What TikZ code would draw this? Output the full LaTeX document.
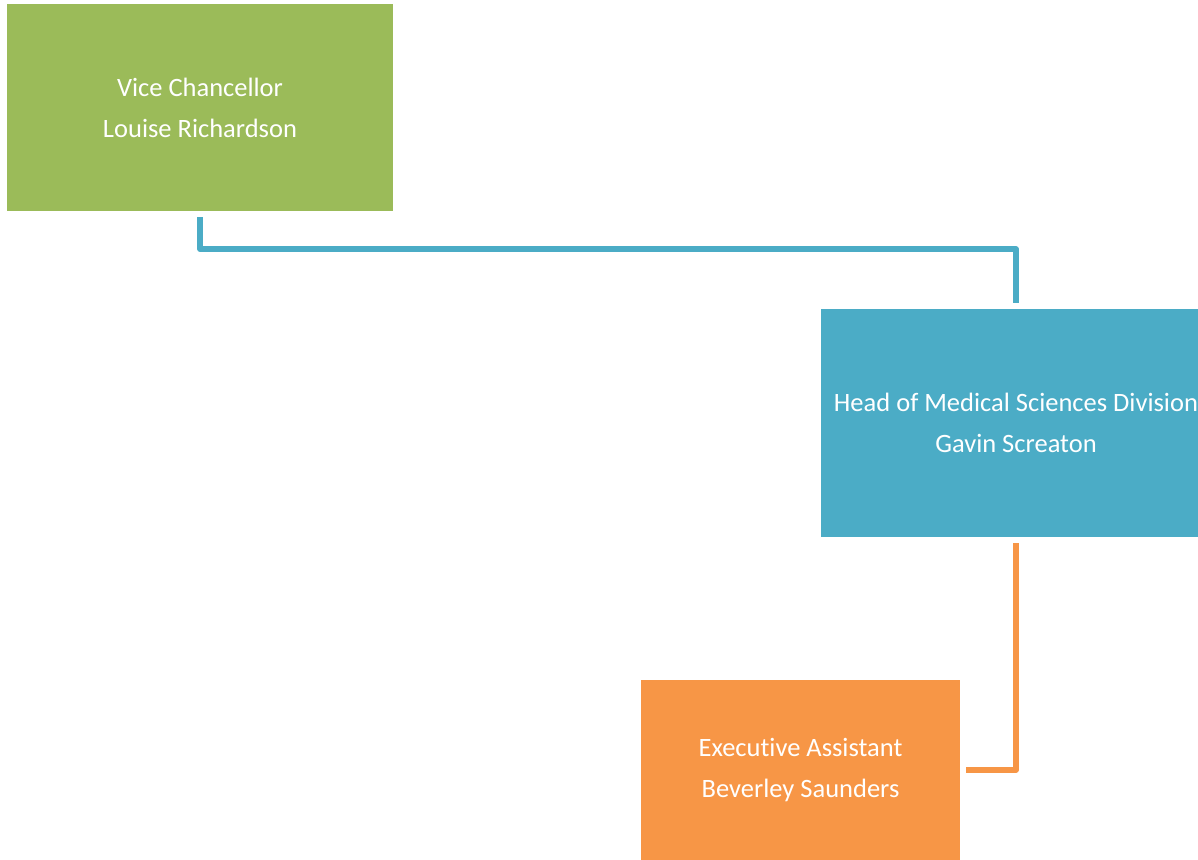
\documentclass[tikz,border=0pt]{standalone}
\usepackage{fontspec}
\setmainfont{Carlito}[Ligatures=NoCommon]
\definecolor{vcgreen}{HTML}{9BBB59}
\definecolor{medblue}{HTML}{4BACC6}
\definecolor{eaorange}{HTML}{F79646}
\begin{document}
\begin{tikzpicture}[x=1pt,y=-1pt,
  post/.style={rectangle,inner sep=0pt,text=white,align=center,
    font=\fontsize{26.5}{41}\selectfont},
  link/.style={line width=5.5pt,line join=round,shorten <=6pt,shorten >=6pt}]
\useasboundingbox (0,0) rectangle (1198,859);
% boxes of the chart
\node[post,fill=vcgreen,minimum width=386pt,minimum height=207pt] (vc) at (200,107.5)
  {Vice Chancellor\\Louise Richardson};
\node[post,fill=medblue,minimum width=390pt,minimum height=228pt] (hm) at (1016,423)
  {Head of Medical Sciences Division\\Gavin Screaton};
\node[post,fill=eaorange,minimum width=319.5pt,minimum height=180pt] (ea) at (800.5,770)
  {Executive Assistant\\Beverley Saunders};
% reporting lines
\draw[link,medblue](vc.south)--++(0,38)-|(hm.north);
\draw[link,eaorange](hm.south)|-(ea.east);
\end{tikzpicture}
\end{document}
